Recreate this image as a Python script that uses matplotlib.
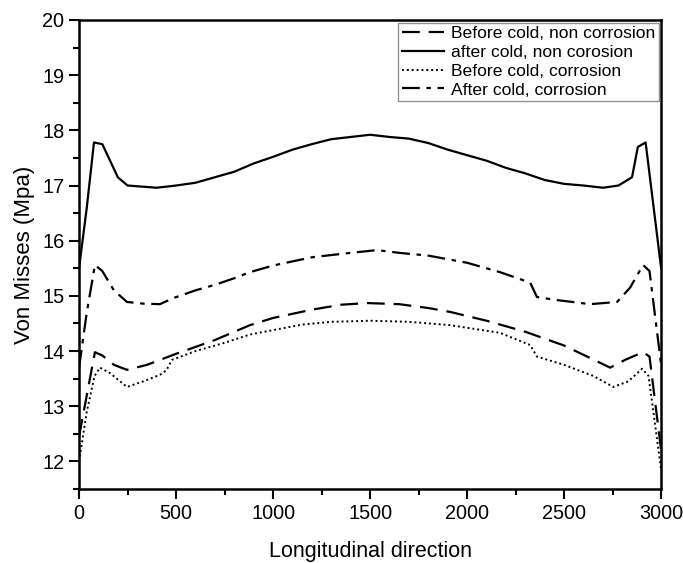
import numpy as np
import matplotlib.pyplot as plt
from matplotlib.ticker import MultipleLocator

plt.rcParams['font.family'] = ['Liberation Sans', 'DejaVu Sans']

# Before cold, non corrosion (dashed)
x_bc_nc = [0, 40, 82, 120, 180, 247, 350, 500, 700, 881, 1000, 1200, 1350, 1485, 1650,
           1800, 1912, 2100, 2300, 2500, 2737, 2820, 2907, 2940, 3000]
y_bc_nc = [12.45, 13.2, 13.98, 13.92, 13.75, 13.66, 13.75, 13.95, 14.2, 14.47, 14.6, 14.75,
           14.84, 14.87, 14.85, 14.78, 14.71, 14.55, 14.35, 14.1, 13.7, 13.85, 13.98, 13.9, 12.2]

# after cold, non corosion (solid)
x_ac_nc = [0, 40, 77, 120, 200, 250, 400, 500, 600, 700, 800, 900, 1000, 1100, 1200, 1300,
           1400, 1500, 1600, 1700, 1800, 1900, 2000, 2100, 2200, 2300, 2400, 2500, 2600,
           2700, 2780, 2850, 2880, 2920, 3000]
y_ac_nc = [15.5, 16.6, 17.78, 17.75, 17.15, 17.0, 16.96, 17.0, 17.05, 17.15, 17.25, 17.4,
           17.52, 17.65, 17.75, 17.84, 17.88, 17.92, 17.88, 17.85, 17.77, 17.65, 17.55,
           17.45, 17.32, 17.22, 17.1, 17.03, 17.0, 16.96, 17.0, 17.15, 17.7, 17.78, 15.5]

# Before cold, corrosion (dotted)
x_bc_c = [0, 40, 80, 108, 160, 247, 330, 417, 450, 479, 600, 750, 881, 1000, 1150, 1300,
          1500, 1700, 1912, 2170, 2325, 2360, 2500, 2650, 2753, 2830, 2902, 2935, 3000]
y_bc_c = [12.0, 12.9, 13.55, 13.7, 13.6, 13.35, 13.45, 13.57, 13.65, 13.84, 14.0, 14.15,
          14.3, 14.38, 14.48, 14.53, 14.55, 14.53, 14.47, 14.33, 14.11, 13.9, 13.75, 13.55,
          13.35, 13.45, 13.68, 13.55, 11.85]

# After cold, corrosion (dash-dot)
x_ac_c = [0, 40, 82, 120, 180, 247, 330, 417, 486, 600, 700, 800, 881, 1000, 1200, 1400,
          1536, 1650, 1800, 2000, 2170, 2325, 2360, 2450, 2634, 2773, 2840, 2907, 2940, 3000]
y_ac_c = [13.7, 14.7, 15.56, 15.45, 15.1, 14.89, 14.86, 14.85, 14.96, 15.1, 15.2, 15.32,
          15.43, 15.55, 15.7, 15.78, 15.83, 15.78, 15.73, 15.6, 15.43, 15.24, 14.98, 14.93,
          14.85, 14.89, 15.15, 15.56, 15.45, 13.75]

fig = plt.figure(figsize=(6.83, 5.63), dpi=100)
ax = fig.add_axes([0.1157, 0.1314, 0.8523, 0.8331])

ax.plot(x_bc_nc, y_bc_nc, color='black', lw=1.6, ls=(0, (8, 4)), label='Before cold, non corrosion')
ax.plot(x_ac_nc, y_ac_nc, color='black', lw=1.6, ls='-', label='after cold, non corosion')
ax.plot(x_bc_c, y_bc_c, color='black', lw=1.4, ls=(0, (1, 1.5)), label='Before cold, corrosion')
ax.plot(x_ac_c, y_ac_c, color='black', lw=1.6, ls=(0, (8, 3, 2, 3)), label='After cold, corrosion')

ax.set_xlim(0, 3000)
ax.set_ylim(11.5, 20)
ax.xaxis.set_major_locator(MultipleLocator(500))
ax.xaxis.set_minor_locator(MultipleLocator(250))
ax.yaxis.set_major_locator(MultipleLocator(1))
ax.yaxis.set_minor_locator(MultipleLocator(0.5))
ax.tick_params(which='major', direction='out', length=7, width=1.5, labelsize=14.3)
ax.tick_params(which='minor', direction='out', length=4, width=1.5)
for sp in ax.spines.values():
    sp.set_linewidth(1.8)

ax.set_xlabel('Longitudinal direction', fontsize=15.5, labelpad=13)
ax.set_ylabel('Von Misses (Mpa)', fontsize=16, labelpad=5)

leg = ax.legend(loc='upper right', fontsize=12.6, frameon=True, fancybox=False,
                edgecolor='#777777', handlelength=2.4, borderaxespad=0.15,
                labelspacing=0.2, borderpad=0.2, handletextpad=0.4)
leg.get_frame().set_linewidth(1.0)

fig.savefig('out.png', dpi=100)
